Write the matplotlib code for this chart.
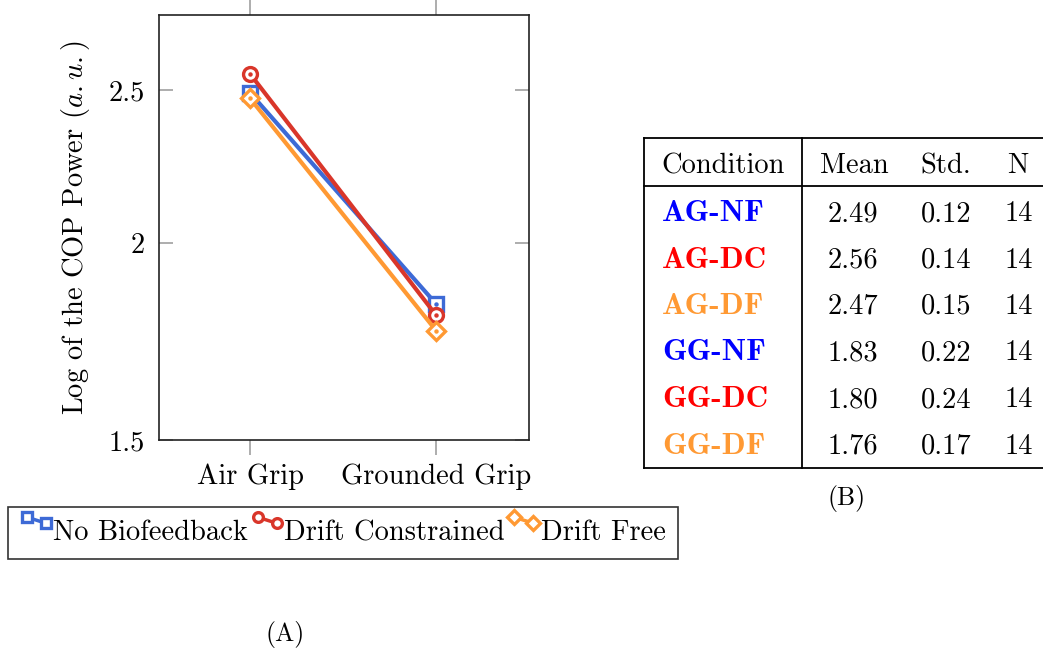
import matplotlib
matplotlib.use("Agg")
import matplotlib.pyplot as plt
from matplotlib.lines import Line2D
from matplotlib.legend_handler import HandlerLine2D

plt.rcParams['font.family'] = ['cmr10', 'DejaVu Serif']
plt.rcParams['mathtext.fontset'] = 'cm'
plt.rcParams['axes.formatter.use_mathtext'] = True

# data
grips = ['Air Grip', 'Grounded Grip']
no_biofeedback = [2.49, 1.83]
drift_constrained = [2.56, 1.80]
drift_free = [2.47, 1.76]

series_names = ['No Biofeedback', 'Drift Constrained', 'Drift Free']

table_labels = ['AG-NF', 'AG-DC', 'AG-DF', 'GG-NF', 'GG-DC', 'GG-DF']
table_means = ['2.49', '2.56', '2.47', '1.83', '1.80', '1.76']
table_stds = ['0.12', '0.14', '0.15', '0.22', '0.24', '0.17']
table_n = ['14', '14', '14', '14', '14', '14']

line_colors = ['#3d6ad6', '#d9362a', '#ff9933']
label_colors = ['#0000ff', '#ff0000', '#ff9933']
markers = ['s', 'o', 'D']


class DiagHandler(HandlerLine2D):
    """two small markers, offset diagonally, like the pgfplots legend"""
    def create_artists(self, legend, orig_handle, xdescent, ydescent,
                       width, height, fontsize, trans):
        x0, y0 = -xdescent, -ydescent
        xs = [x0 + 0.2 * width, x0 + 0.8 * width]
        ys = [y0 + 1.15 * height, y0 + 0.85 * height]
        ln = Line2D(xs, ys, color=orig_handle.get_color(), lw=2.5,
                    marker=orig_handle.get_marker(), ms=7, mew=2.4,
                    mfc='white', mec=orig_handle.get_color())
        ln.set_transform(trans)
        return [ln]


W, H = 1043, 651
fig = plt.figure(figsize=(W / 100, H / 100), dpi=100)

# overlay in pixel coordinates for the table and captions
ov = fig.add_axes([0, 0, 1, 1])
ov.set_xlim(0, W)
ov.set_ylim(H, 0)
ov.axis('off')

# --- plot (A)
ax = fig.add_axes([159 / W, 1 - 440 / H, (529 - 159) / W, (440 - 15) / H])
x = list(range(len(grips)))
handles = []
for vals, col, mk, name in zip([no_biofeedback, drift_constrained, drift_free],
                               line_colors, markers, series_names):
    ms = 9 if mk == 'D' else 10
    h, = ax.plot(x, vals, color=col, lw=3, marker=mk, ms=ms, mew=2.4,
                 mfc='white', mec=col, label=name)
    ax.plot(x, vals, ls='none', marker='o', ms=2.2, color=col)
    handles.append(h)

ax.set_yscale('log')
ax.set_ylim(1.5, 2.79)
ax.set_xlim(-0.49, 1.5)
ax.set_yticks([1.5, 2, 2.5])
ax.set_yticklabels(['1.5', '2', '2.5'])
ax.minorticks_off()
ax.set_xticks(x)
ax.set_xticklabels(grips)
ax.tick_params(axis='y', direction='in', left=True, right=True, length=10,
               width=1.2, color='#a0a0a0', labelsize=20.5, pad=10)
ax.tick_params(axis='x', direction='out', top=True, bottom=True, length=11,
               width=1.2, color='#a0a0a0', labelsize=20.5, pad=6)
for s in ax.spines.values():
    s.set_linewidth(1.2)
    s.set_color('#222222')
ax.set_ylabel('Log of the COP Power ($a.u.$)', fontsize=20.5, labelpad=12)

leg = fig.legend(handles, series_names, loc='upper left',
                 bbox_to_anchor=(8 / W, 1 - 507 / H), ncol=3, fontsize=20.5,
                 handler_map={Line2D: DiagHandler()},
                 handlelength=1.1, handletextpad=0.04,
                 columnspacing=0.12, borderaxespad=0, borderpad=0.45,
                 fancybox=False, framealpha=1, edgecolor='#333333')
leg.get_frame().set_linewidth(1.2)

ov.text(285, 634, '(A)', fontsize=18.5, ha='center', va='center')

# --- table (B)
lw = 1.3
for yy in [138, 186, 468]:
    ov.add_line(Line2D([644, W], [yy, yy], color='black', lw=lw))
for xx in [644, 802]:
    ov.add_line(Line2D([xx, xx], [138, 468], color='black', lw=lw))

fs = 20.5
ov.text(723, 173, 'Condition', fontsize=fs, ha='center', va='baseline')
ov.text(854, 173, 'Mean', fontsize=fs, ha='center', va='baseline')
ov.text(946, 173, 'Std.', fontsize=fs, ha='center', va='baseline')
ov.text(1018, 173, 'N', fontsize=fs, ha='center', va='baseline')

row_base = [221, 267.5, 314, 360.5, 407, 453.5]
for i, yb in enumerate(row_base):
    ov.text(662, yb, table_labels[i], fontsize=22.5, ha='left', va='baseline',
            family='cmb10', color=label_colors[i % 3])
    ov.text(853, yb, table_means[i], fontsize=fs, ha='center', va='baseline')
    ov.text(946, yb, table_stds[i], fontsize=fs, ha='center', va='baseline')
    ov.text(1019, yb, table_n[i], fontsize=fs, ha='center', va='baseline')

ov.text(847, 498, '(B)', fontsize=18.5, ha='center', va='center')

fig.savefig('out.png', dpi=100)
